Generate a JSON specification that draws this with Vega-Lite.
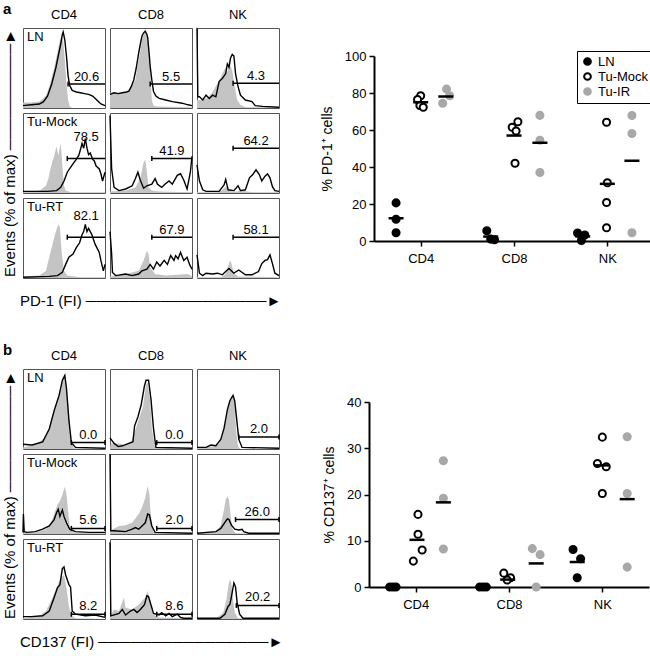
{
"$schema": "https://vega.github.io/schema/vega-lite/v6.json",
"padding": {"left": 2, "top": 2, "right": 2, "bottom": 2},
"config": {"font": "Liberation Sans", "view": {"stroke": "#555555", "strokeWidth": 1}},
"datasets": {
"histA": [
{"p":"LN","c":"CD4","k":"c","x":0,"y":7},{"p":"LN","c":"CD4","k":"c","x":10,"y":7},{"p":"LN","c":"CD4","k":"c","x":20,"y":8},{"p":"LN","c":"CD4","k":"c","x":28,"y":15},{"p":"LN","c":"CD4","k":"c","x":33,"y":30},{"p":"LN","c":"CD4","k":"c","x":38,"y":50},{"p":"LN","c":"CD4","k":"c","x":42,"y":70},{"p":"LN","c":"CD4","k":"c","x":45,"y":85},{"p":"LN","c":"CD4","k":"c","x":47,"y":90},{"p":"LN","c":"CD4","k":"c","x":49,"y":85},{"p":"LN","c":"CD4","k":"c","x":51,"y":60},{"p":"LN","c":"CD4","k":"c","x":53,"y":30},{"p":"LN","c":"CD4","k":"c","x":55,"y":10},{"p":"LN","c":"CD4","k":"c","x":57,"y":2},{"p":"LN","c":"CD4","k":"c","x":60,"y":0},{"p":"LN","c":"CD4","k":"c","x":100,"y":0},
{"p":"LN","c":"CD4","k":"s","x":0,"y":3},{"p":"LN","c":"CD4","k":"s","x":10,"y":4},{"p":"LN","c":"CD4","k":"s","x":20,"y":5},{"p":"LN","c":"CD4","k":"s","x":25,"y":8},{"p":"LN","c":"CD4","k":"s","x":30,"y":15},{"p":"LN","c":"CD4","k":"s","x":35,"y":30},{"p":"LN","c":"CD4","k":"s","x":40,"y":50},{"p":"LN","c":"CD4","k":"s","x":43,"y":65},{"p":"LN","c":"CD4","k":"s","x":46,"y":80},{"p":"LN","c":"CD4","k":"s","x":48,"y":92},{"p":"LN","c":"CD4","k":"s","x":49,"y":95},{"p":"LN","c":"CD4","k":"s","x":51,"y":85},{"p":"LN","c":"CD4","k":"s","x":53,"y":65},{"p":"LN","c":"CD4","k":"s","x":55,"y":40},{"p":"LN","c":"CD4","k":"s","x":57,"y":28},{"p":"LN","c":"CD4","k":"s","x":60,"y":22},{"p":"LN","c":"CD4","k":"s","x":65,"y":20},{"p":"LN","c":"CD4","k":"s","x":70,"y":19},{"p":"LN","c":"CD4","k":"s","x":75,"y":18},{"p":"LN","c":"CD4","k":"s","x":80,"y":17},{"p":"LN","c":"CD4","k":"s","x":85,"y":15},{"p":"LN","c":"CD4","k":"s","x":90,"y":10},{"p":"LN","c":"CD4","k":"s","x":95,"y":5},{"p":"LN","c":"CD4","k":"s","x":100,"y":3},
{"p":"LN","c":"CD4","k":"g","x1":55,"x2":100,"gy":30,"ty":39,"t":"20.6"},
{"p":"LN","c":"CD4","k":"l","t":"LN"},
{"p":"LN","c":"CD8","k":"c","x":0,"y":19},{"p":"LN","c":"CD8","k":"c","x":10,"y":19},{"p":"LN","c":"CD8","k":"c","x":20,"y":20},{"p":"LN","c":"CD8","k":"c","x":23,"y":23},{"p":"LN","c":"CD8","k":"c","x":27,"y":28},{"p":"LN","c":"CD8","k":"c","x":31,"y":35},{"p":"LN","c":"CD8","k":"c","x":33,"y":48},{"p":"LN","c":"CD8","k":"c","x":35,"y":60},{"p":"LN","c":"CD8","k":"c","x":37,"y":72},{"p":"LN","c":"CD8","k":"c","x":39,"y":85},{"p":"LN","c":"CD8","k":"c","x":41,"y":92},{"p":"LN","c":"CD8","k":"c","x":43,"y":96},{"p":"LN","c":"CD8","k":"c","x":45,"y":90},{"p":"LN","c":"CD8","k":"c","x":47,"y":81},{"p":"LN","c":"CD8","k":"c","x":49,"y":52},{"p":"LN","c":"CD8","k":"c","x":51,"y":10},{"p":"LN","c":"CD8","k":"c","x":53,"y":3},{"p":"LN","c":"CD8","k":"c","x":57,"y":2},{"p":"LN","c":"CD8","k":"c","x":100,"y":1},
{"p":"LN","c":"CD8","k":"s","x":0,"y":17},{"p":"LN","c":"CD8","k":"s","x":5,"y":19},{"p":"LN","c":"CD8","k":"s","x":10,"y":18},{"p":"LN","c":"CD8","k":"s","x":15,"y":19},{"p":"LN","c":"CD8","k":"s","x":20,"y":20},{"p":"LN","c":"CD8","k":"s","x":23,"y":21},{"p":"LN","c":"CD8","k":"s","x":26,"y":27},{"p":"LN","c":"CD8","k":"s","x":29,"y":35},{"p":"LN","c":"CD8","k":"s","x":32,"y":50},{"p":"LN","c":"CD8","k":"s","x":35,"y":69},{"p":"LN","c":"CD8","k":"s","x":37,"y":80},{"p":"LN","c":"CD8","k":"s","x":39,"y":90},{"p":"LN","c":"CD8","k":"s","x":41,"y":94},{"p":"LN","c":"CD8","k":"s","x":43,"y":96},{"p":"LN","c":"CD8","k":"s","x":45,"y":92},{"p":"LN","c":"CD8","k":"s","x":46,"y":88},{"p":"LN","c":"CD8","k":"s","x":48,"y":65},{"p":"LN","c":"CD8","k":"s","x":49,"y":52},{"p":"LN","c":"CD8","k":"s","x":51,"y":35},{"p":"LN","c":"CD8","k":"s","x":53,"y":21},{"p":"LN","c":"CD8","k":"s","x":56,"y":15},{"p":"LN","c":"CD8","k":"s","x":60,"y":12},{"p":"LN","c":"CD8","k":"s","x":68,"y":10},{"p":"LN","c":"CD8","k":"s","x":76,"y":8},{"p":"LN","c":"CD8","k":"s","x":88,"y":6},{"p":"LN","c":"CD8","k":"s","x":95,"y":4},{"p":"LN","c":"CD8","k":"s","x":100,"y":3},
{"p":"LN","c":"CD8","k":"g","x1":49,"x2":100,"gy":30,"ty":39,"t":"5.5"},
{"p":"LN","c":"NK","k":"c","x":0,"y":10},{"p":"LN","c":"NK","k":"c","x":5,"y":10},{"p":"LN","c":"NK","k":"c","x":11,"y":12},{"p":"LN","c":"NK","k":"c","x":15,"y":15},{"p":"LN","c":"NK","k":"c","x":19,"y":20},{"p":"LN","c":"NK","k":"c","x":25,"y":31},{"p":"LN","c":"NK","k":"c","x":31,"y":43},{"p":"LN","c":"NK","k":"c","x":35,"y":51},{"p":"LN","c":"NK","k":"c","x":37,"y":44},{"p":"LN","c":"NK","k":"c","x":39,"y":59},{"p":"LN","c":"NK","k":"c","x":41,"y":52},{"p":"LN","c":"NK","k":"c","x":43,"y":47},{"p":"LN","c":"NK","k":"c","x":46,"y":27},{"p":"LN","c":"NK","k":"c","x":49,"y":10},{"p":"LN","c":"NK","k":"c","x":53,"y":4},{"p":"LN","c":"NK","k":"c","x":59,"y":1},{"p":"LN","c":"NK","k":"c","x":100,"y":1},
{"p":"LN","c":"NK","k":"s","x":0,"y":100},{"p":"LN","c":"NK","k":"s","x":1,"y":14},{"p":"LN","c":"NK","k":"s","x":3,"y":14},{"p":"LN","c":"NK","k":"s","x":7,"y":10},{"p":"LN","c":"NK","k":"s","x":11,"y":16},{"p":"LN","c":"NK","k":"s","x":15,"y":12},{"p":"LN","c":"NK","k":"s","x":19,"y":16},{"p":"LN","c":"NK","k":"s","x":23,"y":14},{"p":"LN","c":"NK","k":"s","x":27,"y":33},{"p":"LN","c":"NK","k":"s","x":31,"y":37},{"p":"LN","c":"NK","k":"s","x":35,"y":43},{"p":"LN","c":"NK","k":"s","x":37,"y":55},{"p":"LN","c":"NK","k":"s","x":39,"y":51},{"p":"LN","c":"NK","k":"s","x":41,"y":63},{"p":"LN","c":"NK","k":"s","x":43,"y":67},{"p":"LN","c":"NK","k":"s","x":45,"y":65},{"p":"LN","c":"NK","k":"s","x":47,"y":43},{"p":"LN","c":"NK","k":"s","x":50,"y":27},{"p":"LN","c":"NK","k":"s","x":53,"y":16},{"p":"LN","c":"NK","k":"s","x":59,"y":10},{"p":"LN","c":"NK","k":"s","x":67,"y":8},{"p":"LN","c":"NK","k":"s","x":71,"y":3},{"p":"LN","c":"NK","k":"s","x":80,"y":2},{"p":"LN","c":"NK","k":"s","x":100,"y":1},
{"p":"LN","c":"NK","k":"g","x1":44,"x2":100,"gy":31,"ty":40,"t":"4.3"},
{"p":"Tu-Mock","c":"CD4","k":"c","x":0,"y":1},{"p":"Tu-Mock","c":"CD4","k":"c","x":15,"y":2},{"p":"Tu-Mock","c":"CD4","k":"c","x":22,"y":4},{"p":"Tu-Mock","c":"CD4","k":"c","x":28,"y":9},{"p":"Tu-Mock","c":"CD4","k":"c","x":31,"y":18},{"p":"Tu-Mock","c":"CD4","k":"c","x":33,"y":28},{"p":"Tu-Mock","c":"CD4","k":"c","x":36,"y":40},{"p":"Tu-Mock","c":"CD4","k":"c","x":38,"y":46},{"p":"Tu-Mock","c":"CD4","k":"c","x":40,"y":55},{"p":"Tu-Mock","c":"CD4","k":"c","x":41,"y":58},{"p":"Tu-Mock","c":"CD4","k":"c","x":42,"y":52},{"p":"Tu-Mock","c":"CD4","k":"c","x":43,"y":47},{"p":"Tu-Mock","c":"CD4","k":"c","x":45,"y":57},{"p":"Tu-Mock","c":"CD4","k":"c","x":46,"y":62},{"p":"Tu-Mock","c":"CD4","k":"c","x":47,"y":50},{"p":"Tu-Mock","c":"CD4","k":"c","x":48,"y":34},{"p":"Tu-Mock","c":"CD4","k":"c","x":50,"y":9},{"p":"Tu-Mock","c":"CD4","k":"c","x":52,"y":3},{"p":"Tu-Mock","c":"CD4","k":"c","x":58,"y":1},{"p":"Tu-Mock","c":"CD4","k":"c","x":100,"y":1},
{"p":"Tu-Mock","c":"CD4","k":"s","x":0,"y":2},{"p":"Tu-Mock","c":"CD4","k":"s","x":30,"y":2},{"p":"Tu-Mock","c":"CD4","k":"s","x":41,"y":3},{"p":"Tu-Mock","c":"CD4","k":"s","x":46,"y":7},{"p":"Tu-Mock","c":"CD4","k":"s","x":50,"y":15},{"p":"Tu-Mock","c":"CD4","k":"s","x":54,"y":26},{"p":"Tu-Mock","c":"CD4","k":"s","x":58,"y":32},{"p":"Tu-Mock","c":"CD4","k":"s","x":62,"y":38},{"p":"Tu-Mock","c":"CD4","k":"s","x":65,"y":42},{"p":"Tu-Mock","c":"CD4","k":"s","x":68,"y":47},{"p":"Tu-Mock","c":"CD4","k":"s","x":70,"y":54},{"p":"Tu-Mock","c":"CD4","k":"s","x":72,"y":62},{"p":"Tu-Mock","c":"CD4","k":"s","x":74,"y":56},{"p":"Tu-Mock","c":"CD4","k":"s","x":76,"y":68},{"p":"Tu-Mock","c":"CD4","k":"s","x":78,"y":56},{"p":"Tu-Mock","c":"CD4","k":"s","x":80,"y":48},{"p":"Tu-Mock","c":"CD4","k":"s","x":82,"y":50},{"p":"Tu-Mock","c":"CD4","k":"s","x":85,"y":42},{"p":"Tu-Mock","c":"CD4","k":"s","x":87,"y":40},{"p":"Tu-Mock","c":"CD4","k":"s","x":89,"y":34},{"p":"Tu-Mock","c":"CD4","k":"s","x":93,"y":30},{"p":"Tu-Mock","c":"CD4","k":"s","x":95,"y":24},{"p":"Tu-Mock","c":"CD4","k":"s","x":97,"y":15},{"p":"Tu-Mock","c":"CD4","k":"s","x":100,"y":26},
{"p":"Tu-Mock","c":"CD4","k":"g","x1":54,"x2":100,"gy":43,"ty":70,"t":"78.5"},
{"p":"Tu-Mock","c":"CD4","k":"l","t":"Tu-Mock"},
{"p":"Tu-Mock","c":"CD8","k":"c","x":0,"y":2},{"p":"Tu-Mock","c":"CD8","k":"c","x":19,"y":3},{"p":"Tu-Mock","c":"CD8","k":"c","x":31,"y":7},{"p":"Tu-Mock","c":"CD8","k":"c","x":37,"y":18},{"p":"Tu-Mock","c":"CD8","k":"c","x":41,"y":38},{"p":"Tu-Mock","c":"CD8","k":"c","x":43,"y":42},{"p":"Tu-Mock","c":"CD8","k":"c","x":45,"y":26},{"p":"Tu-Mock","c":"CD8","k":"c","x":47,"y":7},{"p":"Tu-Mock","c":"CD8","k":"c","x":51,"y":3},{"p":"Tu-Mock","c":"CD8","k":"c","x":60,"y":2},{"p":"Tu-Mock","c":"CD8","k":"c","x":100,"y":1},
{"p":"Tu-Mock","c":"CD8","k":"s","x":0,"y":97},{"p":"Tu-Mock","c":"CD8","k":"s","x":2,"y":30},{"p":"Tu-Mock","c":"CD8","k":"s","x":5,"y":7},{"p":"Tu-Mock","c":"CD8","k":"s","x":11,"y":3},{"p":"Tu-Mock","c":"CD8","k":"s","x":19,"y":5},{"p":"Tu-Mock","c":"CD8","k":"s","x":27,"y":9},{"p":"Tu-Mock","c":"CD8","k":"s","x":31,"y":18},{"p":"Tu-Mock","c":"CD8","k":"s","x":34,"y":26},{"p":"Tu-Mock","c":"CD8","k":"s","x":37,"y":16},{"p":"Tu-Mock","c":"CD8","k":"s","x":41,"y":6},{"p":"Tu-Mock","c":"CD8","k":"s","x":45,"y":9},{"p":"Tu-Mock","c":"CD8","k":"s","x":51,"y":11},{"p":"Tu-Mock","c":"CD8","k":"s","x":55,"y":18},{"p":"Tu-Mock","c":"CD8","k":"s","x":58,"y":11},{"p":"Tu-Mock","c":"CD8","k":"s","x":63,"y":7},{"p":"Tu-Mock","c":"CD8","k":"s","x":67,"y":11},{"p":"Tu-Mock","c":"CD8","k":"s","x":72,"y":15},{"p":"Tu-Mock","c":"CD8","k":"s","x":76,"y":11},{"p":"Tu-Mock","c":"CD8","k":"s","x":82,"y":22},{"p":"Tu-Mock","c":"CD8","k":"s","x":86,"y":24},{"p":"Tu-Mock","c":"CD8","k":"s","x":90,"y":16},{"p":"Tu-Mock","c":"CD8","k":"s","x":94,"y":5},{"p":"Tu-Mock","c":"CD8","k":"s","x":98,"y":26},{"p":"Tu-Mock","c":"CD8","k":"s","x":100,"y":46},
{"p":"Tu-Mock","c":"CD8","k":"g","x1":51,"x2":100,"gy":43,"ty":52,"t":"41.9"},
{"p":"Tu-Mock","c":"NK","k":"c","x":0,"y":1},{"p":"Tu-Mock","c":"NK","k":"c","x":25,"y":1},{"p":"Tu-Mock","c":"NK","k":"c","x":30,"y":3},{"p":"Tu-Mock","c":"NK","k":"c","x":33,"y":6},{"p":"Tu-Mock","c":"NK","k":"c","x":36,"y":8},{"p":"Tu-Mock","c":"NK","k":"c","x":39,"y":4},{"p":"Tu-Mock","c":"NK","k":"c","x":42,"y":2},{"p":"Tu-Mock","c":"NK","k":"c","x":50,"y":2},{"p":"Tu-Mock","c":"NK","k":"c","x":54,"y":4},{"p":"Tu-Mock","c":"NK","k":"c","x":57,"y":4},{"p":"Tu-Mock","c":"NK","k":"c","x":60,"y":2},{"p":"Tu-Mock","c":"NK","k":"c","x":70,"y":1},{"p":"Tu-Mock","c":"NK","k":"c","x":100,"y":1},
{"p":"Tu-Mock","c":"NK","k":"s","x":0,"y":35},{"p":"Tu-Mock","c":"NK","k":"s","x":3,"y":15},{"p":"Tu-Mock","c":"NK","k":"s","x":7,"y":4},{"p":"Tu-Mock","c":"NK","k":"s","x":11,"y":2},{"p":"Tu-Mock","c":"NK","k":"s","x":27,"y":2},{"p":"Tu-Mock","c":"NK","k":"s","x":33,"y":10},{"p":"Tu-Mock","c":"NK","k":"s","x":35,"y":17},{"p":"Tu-Mock","c":"NK","k":"s","x":38,"y":4},{"p":"Tu-Mock","c":"NK","k":"s","x":45,"y":3},{"p":"Tu-Mock","c":"NK","k":"s","x":50,"y":9},{"p":"Tu-Mock","c":"NK","k":"s","x":53,"y":3},{"p":"Tu-Mock","c":"NK","k":"s","x":59,"y":4},{"p":"Tu-Mock","c":"NK","k":"s","x":64,"y":19},{"p":"Tu-Mock","c":"NK","k":"s","x":68,"y":23},{"p":"Tu-Mock","c":"NK","k":"s","x":72,"y":29},{"p":"Tu-Mock","c":"NK","k":"s","x":76,"y":23},{"p":"Tu-Mock","c":"NK","k":"s","x":79,"y":15},{"p":"Tu-Mock","c":"NK","k":"s","x":83,"y":21},{"p":"Tu-Mock","c":"NK","k":"s","x":86,"y":24},{"p":"Tu-Mock","c":"NK","k":"s","x":89,"y":19},{"p":"Tu-Mock","c":"NK","k":"s","x":92,"y":8},{"p":"Tu-Mock","c":"NK","k":"s","x":95,"y":3},{"p":"Tu-Mock","c":"NK","k":"s","x":100,"y":2},
{"p":"Tu-Mock","c":"NK","k":"g","x1":44,"x2":100,"gy":56,"ty":65,"t":"64.2"},
{"p":"Tu-RT","c":"CD4","k":"c","x":0,"y":2},{"p":"Tu-RT","c":"CD4","k":"c","x":20,"y":3},{"p":"Tu-RT","c":"CD4","k":"c","x":28,"y":9},{"p":"Tu-RT","c":"CD4","k":"c","x":32,"y":26},{"p":"Tu-RT","c":"CD4","k":"c","x":36,"y":42},{"p":"Tu-RT","c":"CD4","k":"c","x":40,"y":58},{"p":"Tu-RT","c":"CD4","k":"c","x":43,"y":67},{"p":"Tu-RT","c":"CD4","k":"c","x":45,"y":63},{"p":"Tu-RT","c":"CD4","k":"c","x":47,"y":34},{"p":"Tu-RT","c":"CD4","k":"c","x":50,"y":9},{"p":"Tu-RT","c":"CD4","k":"c","x":54,"y":3},{"p":"Tu-RT","c":"CD4","k":"c","x":70,"y":1},{"p":"Tu-RT","c":"CD4","k":"c","x":100,"y":1},
{"p":"Tu-RT","c":"CD4","k":"s","x":0,"y":1},{"p":"Tu-RT","c":"CD4","k":"s","x":32,"y":2},{"p":"Tu-RT","c":"CD4","k":"s","x":42,"y":3},{"p":"Tu-RT","c":"CD4","k":"s","x":48,"y":7},{"p":"Tu-RT","c":"CD4","k":"s","x":52,"y":17},{"p":"Tu-RT","c":"CD4","k":"s","x":56,"y":26},{"p":"Tu-RT","c":"CD4","k":"s","x":61,"y":30},{"p":"Tu-RT","c":"CD4","k":"s","x":65,"y":38},{"p":"Tu-RT","c":"CD4","k":"s","x":69,"y":44},{"p":"Tu-RT","c":"CD4","k":"s","x":72,"y":54},{"p":"Tu-RT","c":"CD4","k":"s","x":74,"y":58},{"p":"Tu-RT","c":"CD4","k":"s","x":76,"y":67},{"p":"Tu-RT","c":"CD4","k":"s","x":78,"y":58},{"p":"Tu-RT","c":"CD4","k":"s","x":80,"y":62},{"p":"Tu-RT","c":"CD4","k":"s","x":82,"y":58},{"p":"Tu-RT","c":"CD4","k":"s","x":84,"y":54},{"p":"Tu-RT","c":"CD4","k":"s","x":88,"y":42},{"p":"Tu-RT","c":"CD4","k":"s","x":93,"y":32},{"p":"Tu-RT","c":"CD4","k":"s","x":95,"y":22},{"p":"Tu-RT","c":"CD4","k":"s","x":98,"y":9},{"p":"Tu-RT","c":"CD4","k":"s","x":100,"y":17},
{"p":"Tu-RT","c":"CD4","k":"g","x1":54,"x2":100,"gy":51,"ty":77,"t":"82.1"},
{"p":"Tu-RT","c":"CD4","k":"l","t":"Tu-RT"},
{"p":"Tu-RT","c":"CD8","k":"c","x":0,"y":2},{"p":"Tu-RT","c":"CD8","k":"c","x":19,"y":5},{"p":"Tu-RT","c":"CD8","k":"c","x":35,"y":9},{"p":"Tu-RT","c":"CD8","k":"c","x":41,"y":22},{"p":"Tu-RT","c":"CD8","k":"c","x":45,"y":34},{"p":"Tu-RT","c":"CD8","k":"c","x":47,"y":30},{"p":"Tu-RT","c":"CD8","k":"c","x":49,"y":13},{"p":"Tu-RT","c":"CD8","k":"c","x":55,"y":5},{"p":"Tu-RT","c":"CD8","k":"c","x":68,"y":3},{"p":"Tu-RT","c":"CD8","k":"c","x":95,"y":5},{"p":"Tu-RT","c":"CD8","k":"c","x":100,"y":2},
{"p":"Tu-RT","c":"CD8","k":"s","x":0,"y":58},{"p":"Tu-RT","c":"CD8","k":"s","x":2,"y":30},{"p":"Tu-RT","c":"CD8","k":"s","x":3,"y":7},{"p":"Tu-RT","c":"CD8","k":"s","x":7,"y":3},{"p":"Tu-RT","c":"CD8","k":"s","x":19,"y":5},{"p":"Tu-RT","c":"CD8","k":"s","x":27,"y":3},{"p":"Tu-RT","c":"CD8","k":"s","x":35,"y":5},{"p":"Tu-RT","c":"CD8","k":"s","x":39,"y":9},{"p":"Tu-RT","c":"CD8","k":"s","x":45,"y":11},{"p":"Tu-RT","c":"CD8","k":"s","x":49,"y":17},{"p":"Tu-RT","c":"CD8","k":"s","x":53,"y":11},{"p":"Tu-RT","c":"CD8","k":"s","x":57,"y":20},{"p":"Tu-RT","c":"CD8","k":"s","x":61,"y":15},{"p":"Tu-RT","c":"CD8","k":"s","x":66,"y":22},{"p":"Tu-RT","c":"CD8","k":"s","x":70,"y":17},{"p":"Tu-RT","c":"CD8","k":"s","x":74,"y":28},{"p":"Tu-RT","c":"CD8","k":"s","x":78,"y":22},{"p":"Tu-RT","c":"CD8","k":"s","x":80,"y":28},{"p":"Tu-RT","c":"CD8","k":"s","x":83,"y":24},{"p":"Tu-RT","c":"CD8","k":"s","x":86,"y":32},{"p":"Tu-RT","c":"CD8","k":"s","x":90,"y":22},{"p":"Tu-RT","c":"CD8","k":"s","x":94,"y":26},{"p":"Tu-RT","c":"CD8","k":"s","x":97,"y":17},{"p":"Tu-RT","c":"CD8","k":"s","x":100,"y":11},
{"p":"Tu-RT","c":"CD8","k":"g","x1":51,"x2":100,"gy":51,"ty":60,"t":"67.9"},
{"p":"Tu-RT","c":"NK","k":"c","x":0,"y":1},{"p":"Tu-RT","c":"NK","k":"c","x":30,"y":1},{"p":"Tu-RT","c":"NK","k":"c","x":35,"y":5},{"p":"Tu-RT","c":"NK","k":"c","x":38,"y":15},{"p":"Tu-RT","c":"NK","k":"c","x":40,"y":22},{"p":"Tu-RT","c":"NK","k":"c","x":42,"y":18},{"p":"Tu-RT","c":"NK","k":"c","x":45,"y":6},{"p":"Tu-RT","c":"NK","k":"c","x":50,"y":2},{"p":"Tu-RT","c":"NK","k":"c","x":100,"y":1},
{"p":"Tu-RT","c":"NK","k":"s","x":0,"y":29},{"p":"Tu-RT","c":"NK","k":"s","x":3,"y":6},{"p":"Tu-RT","c":"NK","k":"s","x":7,"y":3},{"p":"Tu-RT","c":"NK","k":"s","x":11,"y":6},{"p":"Tu-RT","c":"NK","k":"s","x":19,"y":5},{"p":"Tu-RT","c":"NK","k":"s","x":25,"y":6},{"p":"Tu-RT","c":"NK","k":"s","x":31,"y":4},{"p":"Tu-RT","c":"NK","k":"s","x":35,"y":8},{"p":"Tu-RT","c":"NK","k":"s","x":39,"y":12},{"p":"Tu-RT","c":"NK","k":"s","x":45,"y":6},{"p":"Tu-RT","c":"NK","k":"s","x":51,"y":10},{"p":"Tu-RT","c":"NK","k":"s","x":59,"y":4},{"p":"Tu-RT","c":"NK","k":"s","x":67,"y":4},{"p":"Tu-RT","c":"NK","k":"s","x":75,"y":8},{"p":"Tu-RT","c":"NK","k":"s","x":79,"y":18},{"p":"Tu-RT","c":"NK","k":"s","x":83,"y":22},{"p":"Tu-RT","c":"NK","k":"s","x":86,"y":23},{"p":"Tu-RT","c":"NK","k":"s","x":89,"y":29},{"p":"Tu-RT","c":"NK","k":"s","x":92,"y":18},{"p":"Tu-RT","c":"NK","k":"s","x":95,"y":6},{"p":"Tu-RT","c":"NK","k":"s","x":100,"y":3},
{"p":"Tu-RT","c":"NK","k":"g","x1":44,"x2":100,"gy":51,"ty":60,"t":"58.1"}
],
"histB": [
{"p":"LN","c":"CD4","k":"c","x":0,"y":2},{"p":"LN","c":"CD4","k":"c","x":15,"y":6},{"p":"LN","c":"CD4","k":"c","x":26,"y":13},{"p":"LN","c":"CD4","k":"c","x":32,"y":27},{"p":"LN","c":"CD4","k":"c","x":38,"y":50},{"p":"LN","c":"CD4","k":"c","x":44,"y":70},{"p":"LN","c":"CD4","k":"c","x":49,"y":88},{"p":"LN","c":"CD4","k":"c","x":51,"y":90},{"p":"LN","c":"CD4","k":"c","x":54,"y":70},{"p":"LN","c":"CD4","k":"c","x":57,"y":31},{"p":"LN","c":"CD4","k":"c","x":59,"y":8},{"p":"LN","c":"CD4","k":"c","x":62,"y":1},{"p":"LN","c":"CD4","k":"c","x":100,"y":0},
{"p":"LN","c":"CD4","k":"s","x":0,"y":6},{"p":"LN","c":"CD4","k":"s","x":11,"y":5},{"p":"LN","c":"CD4","k":"s","x":24,"y":9},{"p":"LN","c":"CD4","k":"s","x":32,"y":25},{"p":"LN","c":"CD4","k":"s","x":38,"y":48},{"p":"LN","c":"CD4","k":"s","x":44,"y":67},{"p":"LN","c":"CD4","k":"s","x":48,"y":86},{"p":"LN","c":"CD4","k":"s","x":51,"y":92},{"p":"LN","c":"CD4","k":"s","x":53,"y":76},{"p":"LN","c":"CD4","k":"s","x":56,"y":36},{"p":"LN","c":"CD4","k":"s","x":59,"y":8},{"p":"LN","c":"CD4","k":"s","x":64,"y":2},{"p":"LN","c":"CD4","k":"s","x":100,"y":1},
{"p":"LN","c":"CD4","k":"g","x1":59,"x2":100,"gy":8,"ty":18,"t":"0.0"},
{"p":"LN","c":"CD4","k":"l","t":"LN"},
{"p":"LN","c":"CD8","k":"c","x":0,"y":2},{"p":"LN","c":"CD8","k":"c","x":1,"y":7},{"p":"LN","c":"CD8","k":"c","x":12,"y":7},{"p":"LN","c":"CD8","k":"c","x":17,"y":5},{"p":"LN","c":"CD8","k":"c","x":26,"y":10},{"p":"LN","c":"CD8","k":"c","x":30,"y":21},{"p":"LN","c":"CD8","k":"c","x":36,"y":40},{"p":"LN","c":"CD8","k":"c","x":40,"y":52},{"p":"LN","c":"CD8","k":"c","x":44,"y":81},{"p":"LN","c":"CD8","k":"c","x":46,"y":83},{"p":"LN","c":"CD8","k":"c","x":49,"y":60},{"p":"LN","c":"CD8","k":"c","x":51,"y":26},{"p":"LN","c":"CD8","k":"c","x":55,"y":2},{"p":"LN","c":"CD8","k":"c","x":100,"y":0},
{"p":"LN","c":"CD8","k":"s","x":0,"y":14},{"p":"LN","c":"CD8","k":"s","x":5,"y":7},{"p":"LN","c":"CD8","k":"s","x":10,"y":3},{"p":"LN","c":"CD8","k":"s","x":15,"y":4},{"p":"LN","c":"CD8","k":"s","x":23,"y":7},{"p":"LN","c":"CD8","k":"s","x":28,"y":9},{"p":"LN","c":"CD8","k":"s","x":30,"y":29},{"p":"LN","c":"CD8","k":"s","x":34,"y":40},{"p":"LN","c":"CD8","k":"s","x":38,"y":55},{"p":"LN","c":"CD8","k":"s","x":42,"y":79},{"p":"LN","c":"CD8","k":"s","x":44,"y":86},{"p":"LN","c":"CD8","k":"s","x":47,"y":86},{"p":"LN","c":"CD8","k":"s","x":50,"y":62},{"p":"LN","c":"CD8","k":"s","x":53,"y":26},{"p":"LN","c":"CD8","k":"s","x":56,"y":2},{"p":"LN","c":"CD8","k":"s","x":100,"y":1},
{"p":"LN","c":"CD8","k":"g","x1":57,"x2":100,"gy":8,"ty":18,"t":"0.0"},
{"p":"LN","c":"NK","k":"c","x":0,"y":1},{"p":"LN","c":"NK","k":"c","x":19,"y":3},{"p":"LN","c":"NK","k":"c","x":27,"y":7},{"p":"LN","c":"NK","k":"c","x":31,"y":16},{"p":"LN","c":"NK","k":"c","x":35,"y":35},{"p":"LN","c":"NK","k":"c","x":38,"y":53},{"p":"LN","c":"NK","k":"c","x":41,"y":62},{"p":"LN","c":"NK","k":"c","x":44,"y":66},{"p":"LN","c":"NK","k":"c","x":46,"y":53},{"p":"LN","c":"NK","k":"c","x":48,"y":20},{"p":"LN","c":"NK","k":"c","x":50,"y":3},{"p":"LN","c":"NK","k":"c","x":53,"y":0},{"p":"LN","c":"NK","k":"c","x":100,"y":0},
{"p":"LN","c":"NK","k":"s","x":0,"y":2},{"p":"LN","c":"NK","k":"s","x":11,"y":2},{"p":"LN","c":"NK","k":"s","x":17,"y":5},{"p":"LN","c":"NK","k":"s","x":23,"y":4},{"p":"LN","c":"NK","k":"s","x":29,"y":12},{"p":"LN","c":"NK","k":"s","x":33,"y":26},{"p":"LN","c":"NK","k":"s","x":37,"y":49},{"p":"LN","c":"NK","k":"s","x":40,"y":60},{"p":"LN","c":"NK","k":"s","x":42,"y":64},{"p":"LN","c":"NK","k":"s","x":44,"y":67},{"p":"LN","c":"NK","k":"s","x":46,"y":60},{"p":"LN","c":"NK","k":"s","x":48,"y":41},{"p":"LN","c":"NK","k":"s","x":51,"y":12},{"p":"LN","c":"NK","k":"s","x":55,"y":2},{"p":"LN","c":"NK","k":"s","x":100,"y":1},
{"p":"LN","c":"NK","k":"g","x1":51,"x2":100,"gy":15,"ty":25,"t":"2.0"},
{"p":"Tu-Mock","c":"CD4","k":"c","x":0,"y":2},{"p":"Tu-Mock","c":"CD4","k":"c","x":15,"y":2},{"p":"Tu-Mock","c":"CD4","k":"c","x":28,"y":6},{"p":"Tu-Mock","c":"CD4","k":"c","x":34,"y":14},{"p":"Tu-Mock","c":"CD4","k":"c","x":38,"y":25},{"p":"Tu-Mock","c":"CD4","k":"c","x":42,"y":37},{"p":"Tu-Mock","c":"CD4","k":"c","x":45,"y":41},{"p":"Tu-Mock","c":"CD4","k":"c","x":48,"y":49},{"p":"Tu-Mock","c":"CD4","k":"c","x":51,"y":59},{"p":"Tu-Mock","c":"CD4","k":"c","x":53,"y":50},{"p":"Tu-Mock","c":"CD4","k":"c","x":55,"y":29},{"p":"Tu-Mock","c":"CD4","k":"c","x":57,"y":10},{"p":"Tu-Mock","c":"CD4","k":"c","x":62,"y":2},{"p":"Tu-Mock","c":"CD4","k":"c","x":100,"y":1},
{"p":"Tu-Mock","c":"CD4","k":"s","x":0,"y":2},{"p":"Tu-Mock","c":"CD4","k":"s","x":0.5,"y":25},{"p":"Tu-Mock","c":"CD4","k":"s","x":1.5,"y":3},{"p":"Tu-Mock","c":"CD4","k":"s","x":5,"y":2},{"p":"Tu-Mock","c":"CD4","k":"s","x":15,"y":3},{"p":"Tu-Mock","c":"CD4","k":"s","x":24,"y":6},{"p":"Tu-Mock","c":"CD4","k":"s","x":32,"y":10},{"p":"Tu-Mock","c":"CD4","k":"s","x":38,"y":18},{"p":"Tu-Mock","c":"CD4","k":"s","x":41,"y":27},{"p":"Tu-Mock","c":"CD4","k":"s","x":43,"y":31},{"p":"Tu-Mock","c":"CD4","k":"s","x":45,"y":22},{"p":"Tu-Mock","c":"CD4","k":"s","x":48,"y":30},{"p":"Tu-Mock","c":"CD4","k":"s","x":50,"y":22},{"p":"Tu-Mock","c":"CD4","k":"s","x":53,"y":14},{"p":"Tu-Mock","c":"CD4","k":"s","x":57,"y":6},{"p":"Tu-Mock","c":"CD4","k":"s","x":64,"y":3},{"p":"Tu-Mock","c":"CD4","k":"s","x":80,"y":2},{"p":"Tu-Mock","c":"CD4","k":"s","x":100,"y":2},
{"p":"Tu-Mock","c":"CD4","k":"g","x1":59,"x2":100,"gy":7,"ty":17,"t":"5.6"},
{"p":"Tu-Mock","c":"CD4","k":"l","t":"Tu-Mock"},
{"p":"Tu-Mock","c":"CD8","k":"c","x":0,"y":4},{"p":"Tu-Mock","c":"CD8","k":"c","x":11,"y":10},{"p":"Tu-Mock","c":"CD8","k":"c","x":19,"y":11},{"p":"Tu-Mock","c":"CD8","k":"c","x":27,"y":14},{"p":"Tu-Mock","c":"CD8","k":"c","x":35,"y":25},{"p":"Tu-Mock","c":"CD8","k":"c","x":39,"y":33},{"p":"Tu-Mock","c":"CD8","k":"c","x":43,"y":45},{"p":"Tu-Mock","c":"CD8","k":"c","x":46,"y":60},{"p":"Tu-Mock","c":"CD8","k":"c","x":48,"y":50},{"p":"Tu-Mock","c":"CD8","k":"c","x":49,"y":33},{"p":"Tu-Mock","c":"CD8","k":"c","x":51,"y":14},{"p":"Tu-Mock","c":"CD8","k":"c","x":53,"y":2},{"p":"Tu-Mock","c":"CD8","k":"c","x":100,"y":1},
{"p":"Tu-Mock","c":"CD8","k":"s","x":0,"y":100},{"p":"Tu-Mock","c":"CD8","k":"s","x":1,"y":4},{"p":"Tu-Mock","c":"CD8","k":"s","x":5,"y":4},{"p":"Tu-Mock","c":"CD8","k":"s","x":19,"y":3},{"p":"Tu-Mock","c":"CD8","k":"s","x":27,"y":6},{"p":"Tu-Mock","c":"CD8","k":"s","x":31,"y":8},{"p":"Tu-Mock","c":"CD8","k":"s","x":35,"y":6},{"p":"Tu-Mock","c":"CD8","k":"s","x":39,"y":10},{"p":"Tu-Mock","c":"CD8","k":"s","x":43,"y":14},{"p":"Tu-Mock","c":"CD8","k":"s","x":46,"y":25},{"p":"Tu-Mock","c":"CD8","k":"s","x":48,"y":24},{"p":"Tu-Mock","c":"CD8","k":"s","x":51,"y":10},{"p":"Tu-Mock","c":"CD8","k":"s","x":55,"y":2},{"p":"Tu-Mock","c":"CD8","k":"s","x":100,"y":1},
{"p":"Tu-Mock","c":"CD8","k":"g","x1":57,"x2":100,"gy":7,"ty":17,"t":"2.0"},
{"p":"Tu-Mock","c":"NK","k":"c","x":0,"y":1},{"p":"Tu-Mock","c":"NK","k":"c","x":23,"y":3},{"p":"Tu-Mock","c":"NK","k":"c","x":29,"y":11},{"p":"Tu-Mock","c":"NK","k":"c","x":33,"y":31},{"p":"Tu-Mock","c":"NK","k":"c","x":35,"y":43},{"p":"Tu-Mock","c":"NK","k":"c","x":37,"y":47},{"p":"Tu-Mock","c":"NK","k":"c","x":39,"y":43},{"p":"Tu-Mock","c":"NK","k":"c","x":41,"y":23},{"p":"Tu-Mock","c":"NK","k":"c","x":43,"y":7},{"p":"Tu-Mock","c":"NK","k":"c","x":47,"y":1},{"p":"Tu-Mock","c":"NK","k":"c","x":100,"y":0},
{"p":"Tu-Mock","c":"NK","k":"s","x":0,"y":1},{"p":"Tu-Mock","c":"NK","k":"s","x":23,"y":3},{"p":"Tu-Mock","c":"NK","k":"s","x":29,"y":7},{"p":"Tu-Mock","c":"NK","k":"s","x":33,"y":13},{"p":"Tu-Mock","c":"NK","k":"s","x":37,"y":19},{"p":"Tu-Mock","c":"NK","k":"s","x":39,"y":18},{"p":"Tu-Mock","c":"NK","k":"s","x":42,"y":11},{"p":"Tu-Mock","c":"NK","k":"s","x":46,"y":6},{"p":"Tu-Mock","c":"NK","k":"s","x":51,"y":5},{"p":"Tu-Mock","c":"NK","k":"s","x":55,"y":6},{"p":"Tu-Mock","c":"NK","k":"s","x":57,"y":3},{"p":"Tu-Mock","c":"NK","k":"s","x":63,"y":1},{"p":"Tu-Mock","c":"NK","k":"s","x":100,"y":1},
{"p":"Tu-Mock","c":"NK","k":"g","x1":47,"x2":100,"gy":18,"ty":28,"t":"26.0"},
{"p":"Tu-RT","c":"CD4","k":"c","x":0,"y":1},{"p":"Tu-RT","c":"CD4","k":"c","x":20,"y":4},{"p":"Tu-RT","c":"CD4","k":"c","x":28,"y":10},{"p":"Tu-RT","c":"CD4","k":"c","x":36,"y":27},{"p":"Tu-RT","c":"CD4","k":"c","x":41,"y":39},{"p":"Tu-RT","c":"CD4","k":"c","x":46,"y":51},{"p":"Tu-RT","c":"CD4","k":"c","x":50,"y":55},{"p":"Tu-RT","c":"CD4","k":"c","x":53,"y":39},{"p":"Tu-RT","c":"CD4","k":"c","x":56,"y":16},{"p":"Tu-RT","c":"CD4","k":"c","x":59,"y":4},{"p":"Tu-RT","c":"CD4","k":"c","x":64,"y":1},{"p":"Tu-RT","c":"CD4","k":"c","x":100,"y":0},
{"p":"Tu-RT","c":"CD4","k":"s","x":0,"y":3},{"p":"Tu-RT","c":"CD4","k":"s","x":10,"y":3},{"p":"Tu-RT","c":"CD4","k":"s","x":24,"y":4},{"p":"Tu-RT","c":"CD4","k":"s","x":32,"y":10},{"p":"Tu-RT","c":"CD4","k":"s","x":38,"y":27},{"p":"Tu-RT","c":"CD4","k":"s","x":42,"y":39},{"p":"Tu-RT","c":"CD4","k":"s","x":45,"y":43},{"p":"Tu-RT","c":"CD4","k":"s","x":48,"y":63},{"p":"Tu-RT","c":"CD4","k":"s","x":50,"y":65},{"p":"Tu-RT","c":"CD4","k":"s","x":52,"y":55},{"p":"Tu-RT","c":"CD4","k":"s","x":54,"y":49},{"p":"Tu-RT","c":"CD4","k":"s","x":56,"y":43},{"p":"Tu-RT","c":"CD4","k":"s","x":58,"y":40},{"p":"Tu-RT","c":"CD4","k":"s","x":60,"y":10},{"p":"Tu-RT","c":"CD4","k":"s","x":64,"y":6},{"p":"Tu-RT","c":"CD4","k":"s","x":76,"y":4},{"p":"Tu-RT","c":"CD4","k":"s","x":88,"y":5},{"p":"Tu-RT","c":"CD4","k":"s","x":100,"y":2},
{"p":"Tu-RT","c":"CD4","k":"g","x1":59,"x2":100,"gy":6,"ty":16,"t":"8.2"},
{"p":"Tu-RT","c":"CD4","k":"l","t":"Tu-RT"},
{"p":"Tu-RT","c":"CD8","k":"c","x":0,"y":4},{"p":"Tu-RT","c":"CD8","k":"c","x":5,"y":12},{"p":"Tu-RT","c":"CD8","k":"c","x":11,"y":10},{"p":"Tu-RT","c":"CD8","k":"c","x":17,"y":27},{"p":"Tu-RT","c":"CD8","k":"c","x":19,"y":14},{"p":"Tu-RT","c":"CD8","k":"c","x":27,"y":12},{"p":"Tu-RT","c":"CD8","k":"c","x":35,"y":18},{"p":"Tu-RT","c":"CD8","k":"c","x":43,"y":27},{"p":"Tu-RT","c":"CD8","k":"c","x":46,"y":35},{"p":"Tu-RT","c":"CD8","k":"c","x":49,"y":22},{"p":"Tu-RT","c":"CD8","k":"c","x":52,"y":6},{"p":"Tu-RT","c":"CD8","k":"c","x":60,"y":2},{"p":"Tu-RT","c":"CD8","k":"c","x":100,"y":1},
{"p":"Tu-RT","c":"CD8","k":"s","x":0,"y":96},{"p":"Tu-RT","c":"CD8","k":"s","x":1,"y":4},{"p":"Tu-RT","c":"CD8","k":"s","x":11,"y":7},{"p":"Tu-RT","c":"CD8","k":"s","x":15,"y":12},{"p":"Tu-RT","c":"CD8","k":"s","x":19,"y":5},{"p":"Tu-RT","c":"CD8","k":"s","x":25,"y":10},{"p":"Tu-RT","c":"CD8","k":"s","x":29,"y":12},{"p":"Tu-RT","c":"CD8","k":"s","x":33,"y":8},{"p":"Tu-RT","c":"CD8","k":"s","x":37,"y":12},{"p":"Tu-RT","c":"CD8","k":"s","x":42,"y":18},{"p":"Tu-RT","c":"CD8","k":"s","x":45,"y":29},{"p":"Tu-RT","c":"CD8","k":"s","x":47,"y":28},{"p":"Tu-RT","c":"CD8","k":"s","x":51,"y":14},{"p":"Tu-RT","c":"CD8","k":"s","x":53,"y":7},{"p":"Tu-RT","c":"CD8","k":"s","x":60,"y":5},{"p":"Tu-RT","c":"CD8","k":"s","x":63,"y":8},{"p":"Tu-RT","c":"CD8","k":"s","x":68,"y":4},{"p":"Tu-RT","c":"CD8","k":"s","x":72,"y":7},{"p":"Tu-RT","c":"CD8","k":"s","x":76,"y":3},{"p":"Tu-RT","c":"CD8","k":"s","x":82,"y":6},{"p":"Tu-RT","c":"CD8","k":"s","x":86,"y":2},{"p":"Tu-RT","c":"CD8","k":"s","x":90,"y":1},{"p":"Tu-RT","c":"CD8","k":"s","x":100,"y":1},
{"p":"Tu-RT","c":"CD8","k":"g","x1":57,"x2":100,"gy":6,"ty":16,"t":"8.6"},
{"p":"Tu-RT","c":"NK","k":"c","x":0,"y":1},{"p":"Tu-RT","c":"NK","k":"c","x":24,"y":1},{"p":"Tu-RT","c":"NK","k":"c","x":32,"y":8},{"p":"Tu-RT","c":"NK","k":"c","x":36,"y":24},{"p":"Tu-RT","c":"NK","k":"c","x":38,"y":40},{"p":"Tu-RT","c":"NK","k":"c","x":40,"y":50},{"p":"Tu-RT","c":"NK","k":"c","x":42,"y":44},{"p":"Tu-RT","c":"NK","k":"c","x":44,"y":24},{"p":"Tu-RT","c":"NK","k":"c","x":46,"y":8},{"p":"Tu-RT","c":"NK","k":"c","x":50,"y":1},{"p":"Tu-RT","c":"NK","k":"c","x":100,"y":0},
{"p":"Tu-RT","c":"NK","k":"s","x":0,"y":1},{"p":"Tu-RT","c":"NK","k":"s","x":28,"y":1},{"p":"Tu-RT","c":"NK","k":"s","x":34,"y":6},{"p":"Tu-RT","c":"NK","k":"s","x":38,"y":16},{"p":"Tu-RT","c":"NK","k":"s","x":40,"y":18},{"p":"Tu-RT","c":"NK","k":"s","x":42,"y":28},{"p":"Tu-RT","c":"NK","k":"s","x":45,"y":45},{"p":"Tu-RT","c":"NK","k":"s","x":47,"y":40},{"p":"Tu-RT","c":"NK","k":"s","x":49,"y":20},{"p":"Tu-RT","c":"NK","k":"s","x":52,"y":6},{"p":"Tu-RT","c":"NK","k":"s","x":56,"y":1},{"p":"Tu-RT","c":"NK","k":"s","x":100,"y":1},
{"p":"Tu-RT","c":"NK","k":"g","x1":48,"x2":100,"gy":17,"ty":27,"t":"20.2"}
],
"dotsA": [
{"c":"CD4","g":"LN","v":20.6,"o":-0.95},{"c":"CD4","g":"LN","v":11.8,"o":-0.95},{"c":"CD4","g":"LN","v":4.5,"o":-0.95},
{"c":"CD4","g":"Tu-Mock","v":78.5,"o":0.0},{"c":"CD4","g":"Tu-Mock","v":76.5,"o":-0.12},{"c":"CD4","g":"Tu-Mock","v":73.2,"o":-0.03},{"c":"CD4","g":"Tu-Mock","v":72.3,"o":0.1},
{"c":"CD4","g":"Tu-IR","v":82.1,"o":1.0},{"c":"CD4","g":"Tu-IR","v":78.5,"o":1.12},{"c":"CD4","g":"Tu-IR","v":74.5,"o":0.85},
{"c":"CD8","g":"LN","v":5.5,"o":-1.05},{"c":"CD8","g":"LN","v":1.0,"o":-0.9},{"c":"CD8","g":"LN","v":0.7,"o":-0.75},
{"c":"CD8","g":"Tu-Mock","v":64.5,"o":0.15},{"c":"CD8","g":"Tu-Mock","v":61.5,"o":-0.07},{"c":"CD8","g":"Tu-Mock","v":59.5,"o":0.08},{"c":"CD8","g":"Tu-Mock","v":42.0,"o":0.04},
{"c":"CD8","g":"Tu-IR","v":67.9,"o":1.0},{"c":"CD8","g":"Tu-IR","v":54.5,"o":1.0},{"c":"CD8","g":"Tu-IR","v":37.0,"o":1.0},
{"c":"NK","g":"LN","v":4.3,"o":-1.15},{"c":"NK","g":"LN","v":3.2,"o":-0.87},{"c":"NK","g":"LN","v":0.3,"o":-1.0},
{"c":"NK","g":"Tu-Mock","v":64.2,"o":-0.03},{"c":"NK","g":"Tu-Mock","v":31.5,"o":0.0},{"c":"NK","g":"Tu-Mock","v":20.8,"o":-0.03},{"c":"NK","g":"Tu-Mock","v":7.2,"o":-0.03},
{"c":"NK","g":"Tu-IR","v":67.8,"o":0.95},{"c":"NK","g":"Tu-IR","v":58.1,"o":0.95},{"c":"NK","g":"Tu-IR","v":4.5,"o":0.95}
],
"meansA": [
{"c":"CD4","g":"LN","v":12.3,"o":-0.95},{"c":"CD4","g":"Tu-Mock","v":75.0,"o":0.0},{"c":"CD4","g":"Tu-IR","v":78.1,"o":0.97},
{"c":"CD8","g":"LN","v":2.4,"o":-0.9},{"c":"CD8","g":"Tu-Mock","v":57.0,"o":0.0},{"c":"CD8","g":"Tu-IR","v":53.1,"o":1.0},
{"c":"NK","g":"LN","v":2.5,"o":-0.95},{"c":"NK","g":"Tu-Mock","v":30.9,"o":0.0},{"c":"NK","g":"Tu-IR","v":43.4,"o":0.95}
],
"dotsB": [
{"c":"CD4","g":"LN","v":0,"o":-1.0},{"c":"CD4","g":"LN","v":0,"o":-0.88},{"c":"CD4","g":"LN","v":0,"o":-0.76},
{"c":"CD4","g":"Tu-Mock","v":5.6,"o":-0.09},{"c":"CD4","g":"Tu-Mock","v":11.4,"o":0.09},{"c":"CD4","g":"Tu-Mock","v":8.0,"o":0.25},{"c":"CD4","g":"Tu-Mock","v":15.7,"o":0.09},
{"c":"CD4","g":"Tu-IR","v":27.3,"o":1.07},{"c":"CD4","g":"Tu-IR","v":19.2,"o":1.07},{"c":"CD4","g":"Tu-IR","v":8.2,"o":1.07},
{"c":"CD8","g":"LN","v":0,"o":-1.13},{"c":"CD8","g":"LN","v":0,"o":-1.0},{"c":"CD8","g":"LN","v":0,"o":-0.88},
{"c":"CD8","g":"Tu-Mock","v":3.0,"o":-0.2},{"c":"CD8","g":"Tu-Mock","v":2.0,"o":0.06},{"c":"CD8","g":"Tu-Mock","v":1.5,"o":-0.07},
{"c":"CD8","g":"Tu-IR","v":8.3,"o":0.9},{"c":"CD8","g":"Tu-IR","v":7.0,"o":1.2},{"c":"CD8","g":"Tu-IR","v":0,"o":1.05},
{"c":"NK","g":"LN","v":8.1,"o":-1.13},{"c":"NK","g":"LN","v":6.1,"o":-0.84},{"c":"NK","g":"LN","v":2.0,"o":-0.97},
{"c":"NK","g":"Tu-Mock","v":32.4,"o":0.0},{"c":"NK","g":"Tu-Mock","v":26.7,"o":-0.19},{"c":"NK","g":"Tu-Mock","v":26.0,"o":0.15},{"c":"NK","g":"Tu-Mock","v":20.2,"o":0.0},
{"c":"NK","g":"Tu-IR","v":32.5,"o":0.96},{"c":"NK","g":"Tu-IR","v":20.2,"o":0.96},{"c":"NK","g":"Tu-IR","v":4.3,"o":0.96}
],
"meansB": [
{"c":"CD4","g":"LN","v":0,"o":-0.88},{"c":"CD4","g":"Tu-Mock","v":10.2,"o":0.05},{"c":"CD4","g":"Tu-IR","v":18.3,"o":1.07},
{"c":"CD8","g":"LN","v":0,"o":-1.0},{"c":"CD8","g":"Tu-Mock","v":1.6,"o":-0.05},{"c":"CD8","g":"Tu-IR","v":5.1,"o":1.05},
{"c":"NK","g":"LN","v":5.4,"o":-0.97},{"c":"NK","g":"Tu-Mock","v":26.3,"o":0.0},{"c":"NK","g":"Tu-IR","v":19.0,"o":0.96}
]
},
"vconcat": [
{
"title": {"text": "a", "anchor": "start", "frame": "bounds", "fontSize": 15, "fontWeight": "bold", "offset": -8},
"spacing": 34,
"resolve": {"scale": {"fill": "independent", "stroke": "independent"}, "legend": {"fill": "independent", "stroke": "independent"}},
"hconcat": [
{
"data": {"name": "histA"},
"bounds": "flush",
"facet": {
"row": {"field": "p", "type": "nominal", "sort": ["LN", "Tu-Mock", "Tu-RT"], "header": {"labels": false, "labelPadding": 0, "title": "Events (% of max)  ──────────►", "titleFontSize": 15, "titleFontWeight": "normal", "titlePadding": -5}},
"column": {"field": "c", "type": "nominal", "sort": ["CD4", "CD8", "NK"], "header": {"labelOrient": "top", "labelFontSize": 13, "labelPadding": 6, "titleOrient": "bottom", "title": "PD-1 (FI)  ─────────────────►", "titleFontSize": 15, "titleFontWeight": "normal", "titleAnchor": "start", "titlePadding": 6}}
},
"spacing": {"row": 5, "column": 5},
"spec": {
"width": 82, "height": 80,
"layer": [
{"transform": [{"filter": "datum.k === 'c'"}], "mark": {"type": "area", "color": "#c4c4c4"}, "encoding": {"x": {"field": "x", "type": "quantitative", "scale": {"domain": [0, 100]}, "axis": null}, "y": {"field": "y", "type": "quantitative", "scale": {"domain": [0, 100]}, "axis": null}}},
{"transform": [{"filter": "datum.k === 's'"}], "mark": {"type": "line", "color": "black", "strokeWidth": 1.4}, "encoding": {"x": {"field": "x", "type": "quantitative"}, "y": {"field": "y", "type": "quantitative"}}},
{"transform": [{"filter": "datum.k === 'g'"}], "mark": {"type": "rule", "color": "black", "strokeWidth": 1.5}, "encoding": {"x": {"field": "x1", "type": "quantitative"}, "x2": {"field": "x2"}, "y": {"field": "gy", "type": "quantitative"}}},
{"transform": [{"filter": "datum.k === 'g'"}], "mark": {"type": "tick", "orient": "vertical", "color": "black", "opacity": 1, "size": 5, "thickness": 1.5}, "encoding": {"x": {"field": "x1", "type": "quantitative"}, "y": {"field": "gy", "type": "quantitative"}}},
{"transform": [{"filter": "datum.k === 'g'"}, {"calculate": "(datum.x1 + datum.x2) / 2", "as": "xm"}], "mark": {"type": "text", "fontSize": 13, "baseline": "middle", "color": "black"}, "encoding": {"x": {"field": "xm", "type": "quantitative"}, "y": {"field": "ty", "type": "quantitative"}, "text": {"field": "t"}}},
{"transform": [{"filter": "datum.k === 'l'"}], "mark": {"type": "text", "fontSize": 13, "align": "left", "baseline": "top", "color": "black"}, "encoding": {"x": {"datum": 5}, "y": {"datum": 96}, "text": {"field": "t"}}}
]
}
},
{
"spacing": 8,
"resolve": {"scale": {"fill": "independent", "stroke": "independent"}, "legend": {"fill": "independent", "stroke": "independent"}},
"vconcat": [
{"width": 280, "height": 14, "view": {"stroke": null}, "data": {"values": [{"t": ""}]}, "mark": {"type": "text"}, "encoding": {"text": {"field": "t"}}},
{
"width": 280, "height": 185,
"view": {"stroke": null},
"layer": [
{"data": {"name": "dotsA"}, "transform": [{"calculate": "indexof(['CD4','CD8','NK'], datum.c) + 1 + datum.o * 0.2775", "as": "xp"}], "mark": {"type": "point", "shape": "circle", "filled": true, "size": 50, "strokeWidth": 2, "opacity": 1},
"encoding": {
"x": {"field": "xp", "type": "quantitative", "scale": {"domain": [0.5, 3.5], "nice": false, "zero": false}, "axis": {"title": null, "values": [1, 2, 3], "labelExpr": "['CD4','CD8','NK'][datum.value - 1]", "grid": false, "domainColor": "black", "domainWidth": 2, "tickColor": "black", "tickWidth": 1.5, "tickSize": 5, "labelFontSize": 13, "labelColor": "black", "labelPadding": 6}},
"y": {"field": "v", "type": "quantitative", "scale": {"domain": [0, 100], "nice": false}, "axis": {"title": "% PD-1⁺ cells", "values": [0, 20, 40, 60, 80, 100], "tickCount": 6, "labelOverlap": false, "grid": false, "domainColor": "black", "domainWidth": 2, "tickColor": "black", "tickWidth": 1.5, "tickSize": 5, "labelFontSize": 13, "labelColor": "black", "titleFontSize": 14, "titleFontWeight": "normal", "titleColor": "black", "labelPadding": 3, "titlePadding": 10}},
"fill": {"field": "g", "type": "nominal", "scale": {"domain": ["LN", "Tu-Mock", "Tu-IR"], "range": ["black", "white", "#a8a8a8"]}, "legend": {"title": null, "orient": "none", "legendX": 203, "legendY": -5, "strokeColor": "black", "padding": 4, "labelFontSize": 13, "labelColor": "black", "symbolSize": 45, "symbolStrokeWidth": 2, "rowPadding": 0, "labelOffset": 4}},
"stroke": {"field": "g", "type": "nominal", "scale": {"domain": ["LN", "Tu-Mock", "Tu-IR"], "range": ["black", "black", "#a8a8a8"]}, "legend": {"title": null, "orient": "none", "legendX": 203, "legendY": -5, "strokeColor": "black", "padding": 4, "labelFontSize": 13, "labelColor": "black", "symbolSize": 45, "symbolStrokeWidth": 2, "rowPadding": 0, "labelOffset": 4}}
}},
{"data": {"name": "meansA"}, "transform": [{"calculate": "indexof(['CD4','CD8','NK'], datum.c) + 1 + datum.o * 0.2775", "as": "xp"}], "mark": {"type": "tick", "orient": "horizontal", "size": 15, "thickness": 2.5, "color": "black", "opacity": 1},
"encoding": {"x": {"field": "xp", "type": "quantitative"}, "y": {"field": "v", "type": "quantitative"}}}
]
}
]
}
]
},
{
"title": {"text": "b", "anchor": "start", "frame": "bounds", "fontSize": 15, "fontWeight": "bold", "offset": -8},
"spacing": 34,
"resolve": {"scale": {"fill": "independent", "stroke": "independent"}, "legend": {"fill": "independent", "stroke": "independent"}},
"hconcat": [
{
"data": {"name": "histB"},
"bounds": "flush",
"facet": {
"row": {"field": "p", "type": "nominal", "sort": ["LN", "Tu-Mock", "Tu-RT"], "header": {"labels": false, "labelPadding": 0, "title": "Events (% of max)  ──────────►", "titleFontSize": 15, "titleFontWeight": "normal", "titlePadding": -5}},
"column": {"field": "c", "type": "nominal", "sort": ["CD4", "CD8", "NK"], "header": {"labelOrient": "top", "labelFontSize": 13, "labelPadding": 6, "titleOrient": "bottom", "title": "CD137 (FI)  ────────────────►", "titleFontSize": 15, "titleFontWeight": "normal", "titleAnchor": "start", "titlePadding": 6}}
},
"spacing": {"row": 5, "column": 5},
"spec": {
"width": 82, "height": 80,
"layer": [
{"transform": [{"filter": "datum.k === 'c'"}], "mark": {"type": "area", "color": "#c4c4c4"}, "encoding": {"x": {"field": "x", "type": "quantitative", "scale": {"domain": [0, 100]}, "axis": null}, "y": {"field": "y", "type": "quantitative", "scale": {"domain": [0, 100]}, "axis": null}}},
{"transform": [{"filter": "datum.k === 's'"}], "mark": {"type": "line", "color": "black", "strokeWidth": 1.4}, "encoding": {"x": {"field": "x", "type": "quantitative"}, "y": {"field": "y", "type": "quantitative"}}},
{"transform": [{"filter": "datum.k === 'g'"}], "mark": {"type": "rule", "color": "black", "strokeWidth": 1.5}, "encoding": {"x": {"field": "x1", "type": "quantitative"}, "x2": {"field": "x2"}, "y": {"field": "gy", "type": "quantitative"}}},
{"transform": [{"filter": "datum.k === 'g'"}], "mark": {"type": "tick", "orient": "vertical", "color": "black", "opacity": 1, "size": 5, "thickness": 1.5}, "encoding": {"x": {"field": "x1", "type": "quantitative"}, "y": {"field": "gy", "type": "quantitative"}}},
{"transform": [{"filter": "datum.k === 'g'"}], "mark": {"type": "tick", "orient": "vertical", "color": "black", "opacity": 1, "size": 5, "thickness": 1.5}, "encoding": {"x": {"field": "x2", "type": "quantitative"}, "y": {"field": "gy", "type": "quantitative"}}},
{"transform": [{"filter": "datum.k === 'g'"}, {"calculate": "(datum.x1 + datum.x2) / 2", "as": "xm"}], "mark": {"type": "text", "fontSize": 13, "baseline": "middle", "color": "black"}, "encoding": {"x": {"field": "xm", "type": "quantitative"}, "y": {"field": "ty", "type": "quantitative"}, "text": {"field": "t"}}},
{"transform": [{"filter": "datum.k === 'l'"}], "mark": {"type": "text", "fontSize": 13, "align": "left", "baseline": "top", "color": "black"}, "encoding": {"x": {"datum": 5}, "y": {"datum": 96}, "text": {"field": "t"}}}
]
}
},
{
"spacing": 8,
"resolve": {"scale": {"fill": "independent", "stroke": "independent"}, "legend": {"fill": "independent", "stroke": "independent"}},
"vconcat": [
{"width": 280, "height": 19, "view": {"stroke": null}, "data": {"values": [{"t": ""}]}, "mark": {"type": "text"}, "encoding": {"text": {"field": "t"}}},
{
"width": 280, "height": 185,
"view": {"stroke": null},
"layer": [
{"data": {"name": "dotsB"}, "transform": [{"calculate": "indexof(['CD4','CD8','NK'], datum.c) + 1 + datum.o * 0.2775", "as": "xp"}], "mark": {"type": "point", "shape": "circle", "filled": true, "size": 50, "strokeWidth": 2, "opacity": 1},
"encoding": {
"x": {"field": "xp", "type": "quantitative", "scale": {"domain": [0.5, 3.5], "nice": false, "zero": false}, "axis": {"title": null, "values": [1, 2, 3], "labelExpr": "['CD4','CD8','NK'][datum.value - 1]", "grid": false, "domainColor": "black", "domainWidth": 2, "tickColor": "black", "tickWidth": 1.5, "tickSize": 5, "labelFontSize": 13, "labelColor": "black", "labelPadding": 6}},
"y": {"field": "v", "type": "quantitative", "scale": {"domain": [0, 40], "nice": false}, "axis": {"title": "% CD137⁺ cells", "values": [0, 10, 20, 30, 40], "tickCount": 5, "labelOverlap": false, "grid": false, "domainColor": "black", "domainWidth": 2, "tickColor": "black", "tickWidth": 1.5, "tickSize": 5, "labelFontSize": 13, "labelColor": "black", "titleFontSize": 14, "titleFontWeight": "normal", "titleColor": "black", "labelPadding": 3, "titlePadding": 10}},
"fill": {"field": "g", "type": "nominal", "scale": {"domain": ["LN", "Tu-Mock", "Tu-IR"], "range": ["black", "white", "#a8a8a8"]}, "legend": null},
"stroke": {"field": "g", "type": "nominal", "scale": {"domain": ["LN", "Tu-Mock", "Tu-IR"], "range": ["black", "black", "#a8a8a8"]}, "legend": null}
}},
{"data": {"name": "meansB"}, "transform": [{"calculate": "indexof(['CD4','CD8','NK'], datum.c) + 1 + datum.o * 0.2775", "as": "xp"}], "mark": {"type": "tick", "orient": "horizontal", "size": 15, "thickness": 2.5, "color": "black", "opacity": 1},
"encoding": {"x": {"field": "xp", "type": "quantitative"}, "y": {"field": "v", "type": "quantitative"}}}
]
}
]
}
]
}
],
"spacing": 34,
"resolve": {"scale": {"fill": "independent", "stroke": "independent"}}
}
